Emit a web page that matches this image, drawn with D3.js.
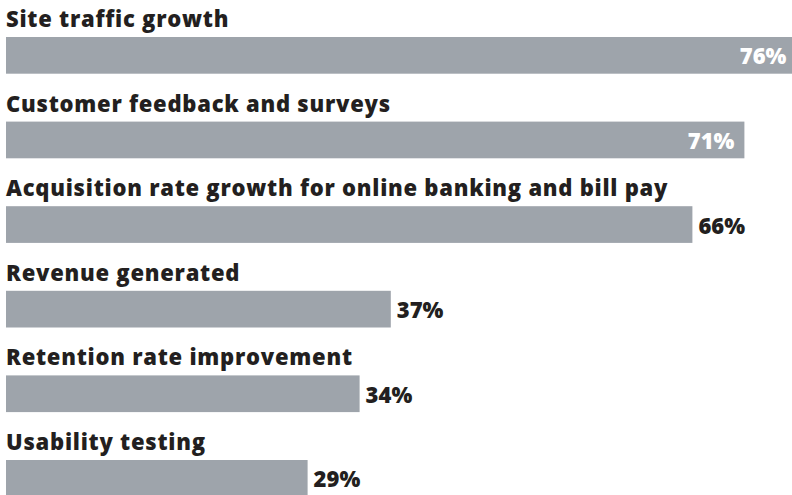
<!DOCTYPE html>
<html>
<head>
<meta charset="utf-8">
<script src="https://cdn.jsdelivr.net/npm/d3@7"></script>
<style>
  html, body { margin: 0; padding: 0; background: #fff; }
  svg { display: block; }
</style>
</head>
<body>
<script>
// Survey categories and share of respondents (%)
const categories = [
  "Site traffic growth",
  "Customer feedback and surveys",
  "Acquisition rate growth for online banking and bill pay",
  "Revenue generated",
  "Retention rate improvement",
  "Usability testing"
];
const values = [76, 71, 66, 37, 34, 29];
const valueLabels = values.map(v => v + "%");

const W = 792, H = 495;
const left = 6;
const barH = 36.7;
const rowStep = 84.6;
const firstBarTop = 37;
const n = categories.length;

const svg = d3.select("body").append("svg")
  .attr("width", W).attr("height", H);

const x = d3.scaleLinear().domain([0, 100]).range([left, left + 1040]);
const y = d3.scaleBand()
  .domain(categories)
  .range([firstBarTop, firstBarTop + rowStep * (n - 1) + barH])
  .paddingInner(1 - barH / rowStep)
  .paddingOuter(0);

const font = "'Open Sans', sans-serif";
const dark = "#231f20";

const rows = svg.selectAll("g.row")
  .data(categories.map((c, i) => ({ c, v: values[i], label: valueLabels[i] })))
  .join("g").attr("class", "row");

rows.append("rect")
  .attr("x", x(0))
  .attr("y", d => y(d.c))
  .attr("width", d => x(d.v) - x(0))
  .attr("height", y.bandwidth())
  .attr("fill", "#9ea4ab");

rows.append("text")
  .attr("x", x(0))
  .attr("y", d => y(d.c) - 10)
  .attr("font-family", font)
  .attr("font-weight", 800)
  .attr("font-size", 22)
  .attr("letter-spacing", 0.75)
  .attr("fill", dark)
  .text(d => d.c);

// Long bars carry their value inside in white; short bars get it just outside
const inside = d => d.v >= 70;
rows.append("text")
  .attr("x", d => inside(d) ? x(d.v) - 10 : x(d.v) + 6)
  .attr("y", d => y(d.c) + 27.3)
  .attr("text-anchor", d => inside(d) ? "end" : "start")
  .attr("font-family", font)
  .attr("font-weight", 800)
  .attr("font-size", 22)
  .attr("fill", d => inside(d) ? "#ffffff" : dark)
  .text(d => d.label);
</script>
</body>
</html>
